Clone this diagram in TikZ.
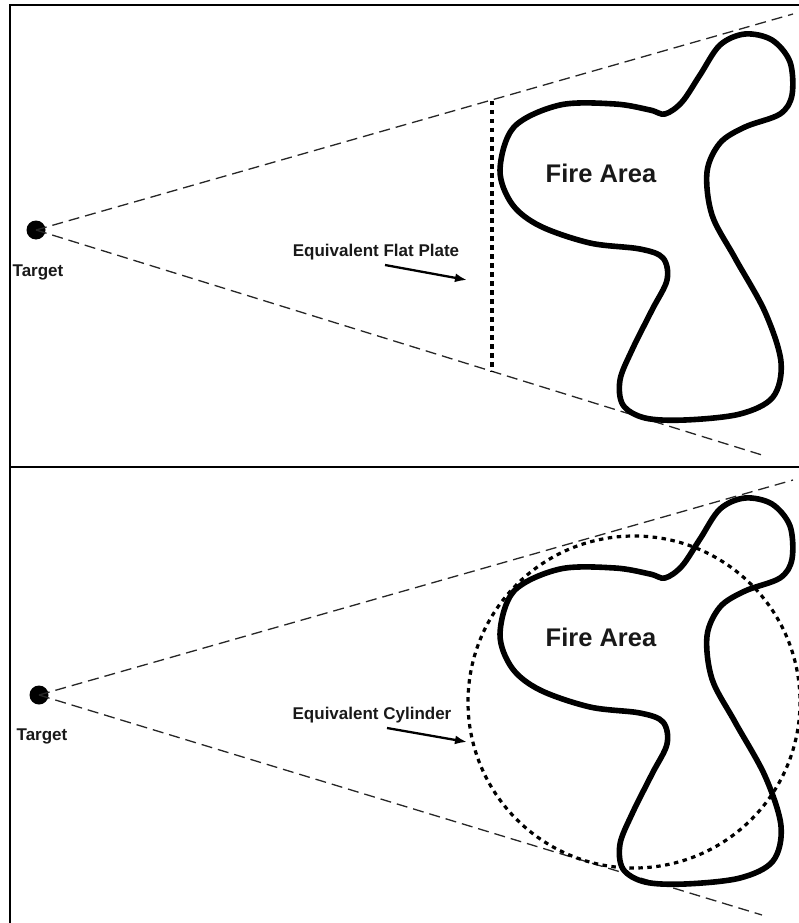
\documentclass[tikz,border=0pt]{standalone}
\usepackage{fontspec}
\setmainfont{Liberation Sans}
\usetikzlibrary{arrows.meta}

\tikzset{
  fireblob/.pic={
    \draw[line width=5.6pt,line join=round] plot[smooth cycle,tension=0.55] coordinates {
      (500,170) (514,127) (560,105) (615,104) (650,110) (665,114) (682,102)
      (700,75) (720,45) (745,34) (772,40) (790,62) (792,95) (780,114)
      (745,127) (720,143) (707,172) (712,215) (735,258) (765,312) (781,362)
      (773,397) (740,414) (685,420) (645,418) (623,405) (620,380) (632,350)
      (652,310) (667,280) (663,258) (640,249) (590,243) (540,226) (512,204)};
  },
}

\begin{document}
\begin{tikzpicture}[x=1pt,y=-1pt,
        target/.style={circle,fill=black,inner sep=0pt,minimum size=19pt},
        notetext/.style={font=\fontsize{17}{19}\selectfont\bfseries,text=black!90,inner sep=0pt},
        firetext/.style={font=\fontsize{25.5}{28}\selectfont\bfseries,text=black!90,inner sep=0pt},
        sight/.style={draw=black!85,line width=1.3pt,dash pattern=on 11pt off 6pt},
        equiv/.style={draw,line width=3.2pt,dash pattern=on 4.5pt off 4.5pt},
        push/.style={draw,line width=2.3pt,-{Latex[length=12pt,width=9pt]}},
        frame/.style={draw,line width=2pt},
      ]
      \useasboundingbox (0,0) rectangle (799,923);
      \draw[frame] (805,5) -- (9.5,5) -- (9.5,930);
      \draw[frame] (9.5,467) -- (805,467);
%
      % flat plate panel
      \node[target] at (36,230) (tgtA) {};
      \node[notetext] at (38,272) (tgtlabelA) {Target};
      \coordinate (rayupA) at (793,14);
      \coordinate (raylowA) at (762,455);
      \path[sight] (tgtA.center) -- (rayupA);
      \path[sight] (tgtA.center) -- (raylowA);
%
      \coordinate (platetop) at (492,101);
      \coordinate (platebot) at (492,372);
      \path[equiv] (platetop) -- (platebot);
%
      \pic at (0,0) {fireblob};
      \node[firetext] at (601,173) (fireA) {Fire Area};
%
      \node[notetext] at (376,252) (plateA) {Equivalent Flat Plate};
      \coordinate (tailA) at (385,265);
      \coordinate (tipA) at (467,280);
      \path[push] (tailA) -- (tipA);
%
      % cylinder panel
      \node[target] at (39,695) (tgtB) {};
      \node[notetext] at (42,736) (tgtlabelB) {Target};
      \coordinate (rayupB) at (793,480);
      \coordinate (raylowB) at (762,915);
      \path[sight] (tgtB.center) -- (rayupB);
      \path[sight] (tgtB.center) -- (raylowB);
%
      \coordinate (cylcenter) at (634,702);
      \path[equiv] (cylcenter) circle[radius=166];
%
      \pic at (0,464) {fireblob};
      \node[firetext] at (601,637) (fireB) {Fire Area};
%
      \node[notetext] at (372,715) (cylB) {Equivalent Cylinder};
      \coordinate (tailB) at (387,728);
      \coordinate (tipB) at (467,742);
      \path[push] (tailB) -- (tipB);
    \end{tikzpicture}
\end{document}
